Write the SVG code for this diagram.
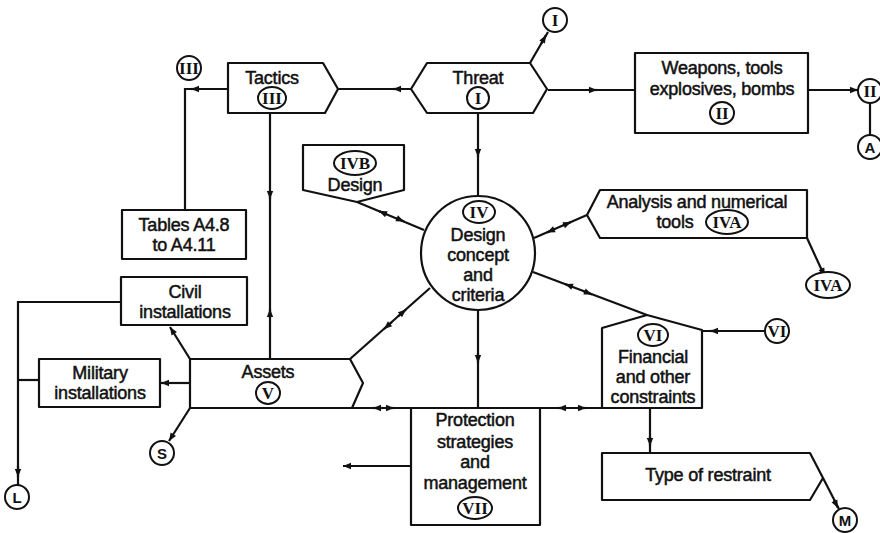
<svg xmlns="http://www.w3.org/2000/svg" width="880" height="533" viewBox="0 0 880 533">
<defs>
<marker id="ah" viewBox="0 0 10 10" refX="10" refY="5" markerWidth="12" markerHeight="8" markerUnits="userSpaceOnUse" orient="auto">
<path d="M0,1 L10,5 L0,9 z" fill="#111"/>
</marker>
</defs>
<style>
.s{fill:#fff;stroke:#111;stroke-width:2.2;stroke-linejoin:round}
.c{fill:none;stroke:#111;stroke-width:2.2}
.a{fill:none;stroke:#111;stroke-width:2.2;marker-end:url(#ah)}
.t{font-family:"Liberation Sans",Arial,sans-serif;font-size:18px;fill:#111;text-anchor:middle;stroke:#111;stroke-width:0.5;letter-spacing:-0.2px}
.r{font-family:"Liberation Serif","Times New Roman",serif;font-size:17px;font-weight:bold;fill:#111;text-anchor:middle}
.l{font-family:"Liberation Sans",Arial,sans-serif;font-size:15px;font-weight:bold;fill:#111;text-anchor:middle}
.o{fill:#fff;stroke:#111;stroke-width:2}
</style>
<rect width="880" height="533" fill="#fff"/>

<g id="connectors">
<path class="c" d="M228,89 L185,89 L185,210"/>
<path class="a" d="M200,89 L191,89"/>
<path class="c" d="M338,89 L411,89"/>
<path class="a" d="M402,89 L393,89"/>
<path class="c" d="M530,63 L548,32"/>
<path class="a" d="M541,44 L546,35"/>
<path class="c" d="M548,90 L635,90"/>
<path class="a" d="M588,90 L597,90"/>
<path class="c" d="M808,90 L858,90"/>
<path class="a" d="M850,90 L858,90"/>
<path class="c" d="M870,103 L870,135"/>
<path class="c" d="M478,113 L478,196"/>
<path class="a" d="M478,148 L478,157"/>
<path class="c" d="M270,113 L270,359"/>
<path class="a" d="M270,190 L270,199"/>
<path class="a" d="M270,318 L270,309"/>
<path class="c" d="M357,202 L424,230"/>
<path class="a" d="M387,214.5 L379,211"/>
<path class="a" d="M396,218 L404,221.5"/>
<path class="c" d="M587,215 L534,238"/>
<path class="a" d="M555,229 L547,232.5"/>
<path class="a" d="M563,225.5 L571,222"/>
<path class="c" d="M807,238 L824,275"/>
<path class="a" d="M821,268 L825,276"/>
<path class="c" d="M533,272 L647,315"/>
<path class="a" d="M573,287 L565,284"/>
<path class="a" d="M583,291 L592,294.5"/>
<path class="c" d="M765,331 L702,331"/>
<path class="a" d="M719,331 L710,331"/>
<path class="c" d="M650,408 L650,453"/>
<path class="a" d="M650,436 L650,446"/>
<path class="c" d="M823,478 L839,509"/>
<path class="a" d="M834,500 L838,508"/>
<path class="c" d="M478,310 L478,408"/>
<path class="a" d="M478,353 L478,363"/>
<path class="c" d="M352,408 L602,408"/>
<path class="a" d="M382,408 L373,408"/>
<path class="a" d="M385,408 L394,408"/>
<path class="a" d="M567,408 L558,408"/>
<path class="a" d="M577,408 L586,408"/>
<path class="a" d="M411,466 L343,466"/>
<path class="a" d="M190,359 L170,327"/>
<path class="a" d="M190,383 L161,383"/>
<path class="a" d="M190,408 L169,441"/>
<path class="c" d="M121,302 L18,302 L18,485"/>
<path class="c" d="M39,380 L18,380"/>
<path class="a" d="M18,466 L18,477"/>
<path class="c" d="M350,359 L430,288"/>
<path class="a" d="M392,322 L384,329"/>
<path class="a" d="M398,316.5 L406,309.5"/>
</g>

<g id="tactics">
<path class="s" d="M228,63 L323,63 L338,89 L325,113 L228,113 Z"/>
<text class="t" x="272" y="84">Tactics</text>
<ellipse class="o" cx="272" cy="98" rx="14" ry="11"/>
<text class="r" x="272" y="104">III</text>
</g>
<g id="threat">
<path class="s" d="M411,89 L427,63 L530,63 L547,89 L533,113 L427,113 Z"/>
<text class="t" x="478" y="84">Threat</text>
<ellipse class="o" cx="478" cy="98" rx="11" ry="11"/>
<text class="r" x="478" y="104">I</text>
</g>
<g id="weapons">
<rect class="s" x="635" y="53" width="173" height="80"/>
<text class="t" x="722" y="74">Weapons, tools</text>
<text class="t" x="722" y="95">explosives, bombs</text>
<ellipse class="o" cx="722" cy="113" rx="12" ry="11"/>
<text class="r" x="722" y="119">II</text>
</g>
<g id="ref-III">
<circle class="o" cx="189" cy="68" r="12"/>
<text class="r" x="189" y="74">III</text>
</g>
<g id="ref-I">
<circle class="o" cx="555" cy="20" r="12"/>
<text class="r" x="555" y="26">I</text>
</g>
<g id="ref-II">
<circle class="o" cx="870" cy="91" r="12"/>
<text class="r" x="870" y="97">II</text>
</g>
<g id="ref-A">
<circle class="o" cx="870" cy="147" r="12"/>
<text class="l" x="870" y="153">A</text>
</g>
<g id="ivb-design">
<path class="s" d="M303,145 L404,145 L404,190 L357,202 L303,190 Z"/>
<ellipse class="o" cx="355" cy="163" rx="21" ry="12"/>
<text class="r" x="355" y="169">IVB</text>
<text class="t" x="355" y="191">Design</text>
</g>
<g id="tables">
<rect class="s" x="122" y="210" width="124" height="49"/>
<text class="t" x="184" y="231">Tables A4.8</text>
<text class="t" x="184" y="251">to A4.11</text>
</g>
<g id="design-concept">
<circle class="s" cx="478" cy="253" r="57"/>
<ellipse class="o" cx="479" cy="212" rx="16" ry="11"/>
<text class="r" x="479" y="218">IV</text>
<text class="t" x="478" y="241">Design</text>
<text class="t" x="478" y="261">concept</text>
<text class="t" x="478" y="281">and</text>
<text class="t" x="478" y="301">criteria</text>
</g>
<g id="analysis">
<path class="s" d="M587,215 L600,190 L807,190 L807,238 L600,238 Z"/>
<text class="t" x="697" y="208">Analysis and numerical</text>
<text class="t" x="675" y="228">tools</text>
<ellipse class="o" cx="727" cy="222" rx="21" ry="12"/>
<text class="r" x="727" y="228">IVA</text>
</g>
<g id="ref-IVA">
<ellipse class="o" cx="828" cy="285" rx="22" ry="13"/>
<text class="r" x="828" y="291">IVA</text>
</g>
<g id="civil">
<rect class="s" x="121" y="277" width="126" height="48"/>
<text class="t" x="185" y="298">Civil</text>
<text class="t" x="185" y="318">installations</text>
</g>
<g id="military">
<rect class="s" x="39" y="359" width="121" height="48"/>
<text class="t" x="100" y="379">Military</text>
<text class="t" x="100" y="399">installations</text>
</g>
<g id="assets">
<path class="s" d="M190,359 L350,359 L363,383 L352,408 L190,408 Z"/>
<text class="t" x="268" y="378">Assets</text>
<ellipse class="o" cx="268" cy="393" rx="12" ry="11"/>
<text class="r" x="268" y="399">V</text>
</g>
<g id="ref-S">
<circle class="o" cx="162" cy="453" r="12"/>
<text class="l" x="162" y="459">S</text>
</g>
<g id="ref-L">
<circle class="o" cx="17" cy="497" r="12"/>
<text class="l" x="17" y="503">L</text>
</g>
<g id="financial">
<path class="s" d="M602,328 L647,315 L702,330 L702,408 L602,408 Z"/>
<ellipse class="o" cx="653" cy="335" rx="15" ry="11"/>
<text class="r" x="653" y="341">VI</text>
<text class="t" x="653" y="363">Financial</text>
<text class="t" x="653" y="383">and other</text>
<text class="t" x="653" y="403">constraints</text>
</g>
<g id="ref-VI">
<circle class="o" cx="777" cy="331" r="12"/>
<text class="r" x="777" y="337">VI</text>
</g>
<g id="protection">
<rect class="s" x="411" y="408" width="129" height="117"/>
<text class="t" x="475" y="426">Protection</text>
<text class="t" x="475" y="448">strategies</text>
<text class="t" x="475" y="468">and</text>
<text class="t" x="475" y="489">management</text>
<ellipse class="o" cx="475" cy="508" rx="17" ry="11"/>
<text class="r" x="475" y="514">VII</text>
</g>
<g id="restraint">
<path class="s" d="M602,453 L810,453 L823,478 L810,500 L602,500 Z"/>
<text class="t" x="708" y="481">Type of restraint</text>
</g>
<g id="ref-M">
<circle class="o" cx="845" cy="520" r="12"/>
<text class="l" x="845" y="526">M</text>
</g>
</svg>
